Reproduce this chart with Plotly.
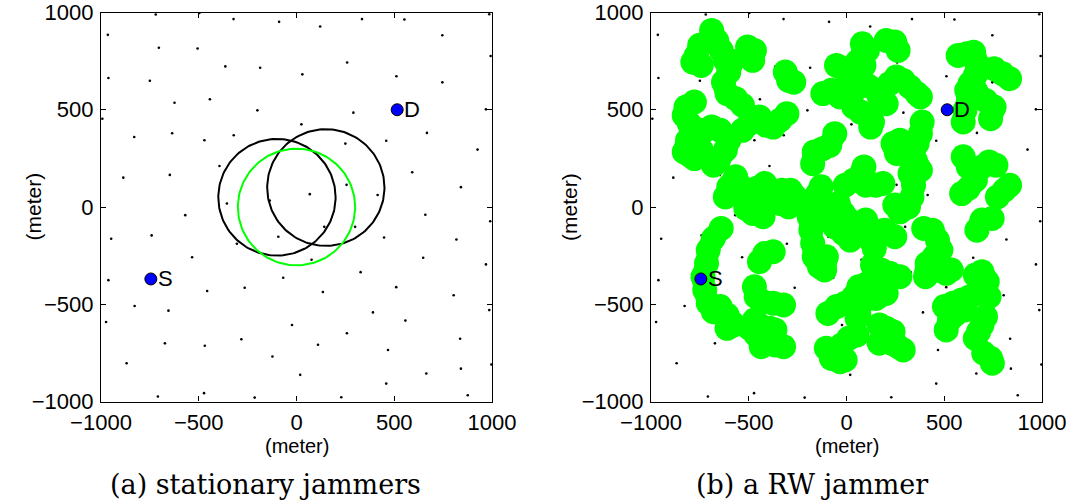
import numpy as np
import plotly.graph_objects as go

# ---- node positions (meters), shared by both panels ----
node_x = [-720, -497, -322, -89, 121, 335, 552, 986, -965, -704, -506, 746, 993,
          -364, -186, 259, 30, -962, -750, 511, 746, -443, -624, -200, 291, 969,
          -993, 25, -636, -830, -471, -321, 250, 459, 667, 926, -886, -648, -394,
          592, 841, 68, 256, 415, -137, -356, -569, 659, 991, -948, -741, -93,
          142, 300, 448, 818, -534, -305, 77, 648, 969, -962, -68, 328, 510, 804,
          -265, -457, 135, -828, -655, 391, 986, -974, -23, 557, 258, -673, -469,
          -282, 110, 468, 837, -123, -869, 997, 19, 664, 841, 459, -709, -473,
          -214, 229, 876]
node_y = [990, 998, 966, 952, 928, 966, 964, 991, 885, 819, 815, 883, 776,
          723, 716, 743, 682, 663, 649, 672, 641, 554, 536, 497, 485, 502,
          454, 425, 379, 360, 343, 369, 326, 341, 381, 295, 151, 165, 211,
          179, 102, 66, 114, 62, 33, 18, -42, -40, -73, -163, -146, -153,
          -102, -102, -157, -167, -258, -189, -271, -261, -295, -376, -364, -335, -412, -454,
          -415, -432, -437, -509, -533, -542, -530, -591, -607, -584, -649, -701, -713,
          -680, -708, -735, -677, -769, -803, -810, -863, -856, -831, -908, -974, -957,
          -980, -978, -968]

# ---- source / destination ----
src = (-745, -370)
dst = (515, 500)

# ---- stationary jammers: centers and jamming radius ----
jam_x = [-100, 150]
jam_y = [50, 100]
jam_r = [300, 300]
ref_x, ref_y, ref_r = 0, 0, 300

# ---- random-walk jammer trail (None separates walk segments) ----
rw_x = [-751, -769, -786, -743, None,
        -690, -664, -641, -620, -585, -602, -629, -611, -567, -532, None,
        -506, -471, -480, None,
        -313, -296, -270, None,
        -778, -821, -830, -804, -778, -725, -690, -646, -602, -620, -655, -681, None,
        -813, -830, -778, -743, None,
        -532, -497, -445, -410, -375, -340, -305, None,
        -620, -602, -567, -541, -506, -462, -418, -392, -427, None,
        -515, -480, -427, None,
        -331, -287, -261, -296, -340, None,
        -641, -681, -707, -716, -734, -725, -707, -681, None,
        -646, -611, -576, -611, None,
        -445, -418, -375, None,
        -471, -462, -427, -375, -322, None,
        -497, -471, -445, -392, -366, None,
        -462, -436, None,
        -366, -322, None,
        -173, -165, -121, -86, -60, None,
        -121, -77, -33, 2, None,
        -51, -16, 11, None,
        81, 107, 81, 54, 89, None,
        203, 247, 264, None,
        63, 107, 151, 168, 203, None,
        37, 72, 107, 133, 124, None,
        220, 255, 290, 325, 360, 378, None,
        571, 615, 650, 667, 659, 632, 615, 623, 606, 597, None,
        659, 711, 755, 737, None,
        755, 798, 834, None,
        387, 378, 361, 317, 273, 238, 256, 308, 352, 378, 325, 343, 335, 317, 273, 247, None,
        597, 623, 659, 694, 729, 764, None,
        659, 623, 589, None,
        772, 807, 834, None,
        -130, -147, -173, -138, None,
        -7, 37, 81, 89, None,
        98, 151, 186, None,
        -191, -182, -173, -165, -138, -112, -103, None,
        -103, -68, -42, -16, 11, 46, 19, -16, -60, None,
        98, 116, 124, 142, None,
        159, 194, 247, None,
        133, 177, 221, 273, None,
        395, 439, 465, 483, 448, 413, 404, 457, 510, 536, None,
        667, 693, 745, None,
        659, 693, 720, None,
        501, 545, 589, 632, 676, 729, None,
        606, 554, 527, 510, None,
        711, 693, 676, 659, None,
        702, 737, 746, None,
        -95, -51, -7, 37, 63, 107, 151, 203, 151, 81, 63, 54, None,
        -103, -77, -33, -7, None,
        -24, 11, 54, None,
        168, 203, 238, 220, 264, 290, 229, 168]
rw_y = [831, 779, 745, 728, None,
        908, 856, 805, 754, 750, 694, 642, 583, 557, 523, None,
        822, 805, 754, None,
        694, 651, 642, None,
        540, 514, 471, 429, 403, 394, 411, 394, 343, 292, 240, 215, None,
        343, 283, 249, 292, None,
        394, 429, 463, 420, 411, 446, 480, None,
        52, 104, 155, 104, 69, 95, 121, 61, 44, None,
        -7, -33, -50, None,
        86, 86, 52, 1, 18, None,
        -110, -162, -221, -290, -358, -427, -495, -538, None,
        -512, -555, -606, -624, None,
        -281, -239, -230, None,
        -410, -461, -487, -495, -504, None,
        -623, -581, -607, -623, -632, None,
        -658, -718, None,
        -709, -718, None,
        223, 283, 300, 317, 377, None,
        583, 600, 566, 600, None,
        728, 711, 677, None,
        839, 805, 779, 745, 728, None,
        856, 848, 805, None,
        617, 625, 600, 566, 531, None,
        514, 488, 471, 437, 411, None,
        634, 668, 651, 617, 583, 566, None,
        779, 788, 796, 737, 677, 634, 600, 548, 497, 437, None,
        600, 548, 514, 454, None,
        711, 685, 660, None,
        437, 377, 326, 326, 343, 326, 275, 266, 240, 189, 172, 112, 52, 1, -25, 10, None,
        258, 206, 164, 206, 232, 215, None,
        138, 95, 69, None,
        52, 86, 112, None,
        104, 69, 35, 18, None,
        112, 138, 181, 206, None,
        112, 112, 121, None,
        -50, -119, -187, -256, -307, -324, -256, None,
        -50, -8, 18, -33, -67, -119, -170, -136, -102, None,
        -67, -119, -170, -213, None,
        -127, -119, -153, None,
        -298, -324, -341, -358, None,
        -110, -119, -170, -221, -256, -290, -358, -324, -341, -324, None,
        -119, -67, -59, None,
        -350, -333, -384, None,
        -512, -495, -478, -461, -444, -461, None,
        -529, -555, -581, -632, None,
        -564, -607, -641, -675, None,
        -752, -778, -803, None,
        -547, -512, -495, -461, -410, -393, -384, -444, -470, -487, -547, -572, None,
        -726, -778, -795, -786, None,
        -709, -675, -658, None,
        -607, -623, -641, -666, -718, -735, -700, -700]

LIME = "#00ff00"
FONT = "Liberation Sans, Arial, Helvetica, sans-serif"
TICKS = [-1000, -500, 0, 500, 1000]

W, H = 1070, 503
PLOT_TOP, PLOT_BOTTOM = 12.5, 401.5
PANELS = [(101, 492), (651, 1042)]


def circle(cx, cy, r, n=181):
    t = np.linspace(0, 2 * np.pi, n)
    return cx + r * np.cos(t), cy + r * np.sin(t)


fig = go.Figure()

for xa, ya in (("x", "y"), ("x2", "y2")):
    fig.add_trace(go.Scatter(x=node_x, y=node_y, mode="markers",
                             marker=dict(color="black", size=2.6),
                             xaxis=xa, yaxis=ya, showlegend=False, hoverinfo="skip"))

# panel (a): jamming ranges
for cx, cy, r in zip(jam_x, jam_y, jam_r):
    px, py = circle(cx, cy, r)
    fig.add_trace(go.Scatter(x=px, y=py, mode="lines", line=dict(color="black", width=2),
                             xaxis="x", yaxis="y", showlegend=False))
px, py = circle(ref_x, ref_y, ref_r)
fig.add_trace(go.Scatter(x=px, y=py, mode="lines", line=dict(color=LIME, width=2),
                         xaxis="x", yaxis="y", showlegend=False))

# panel (b): random-walk trail, drawn as a thick smoothed stroke
fig.add_trace(go.Scatter(x=rw_x, y=rw_y, mode="lines+markers",
                         line=dict(color=LIME, width=22, shape="spline", smoothing=0.8),
                         marker=dict(color=LIME, size=25),
                         connectgaps=False,
                         xaxis="x2", yaxis="y2", showlegend=False))

# source and destination in both panels
for xa, ya in (("x", "y"), ("x2", "y2")):
    fig.add_trace(go.Scatter(x=[src[0], dst[0]], y=[src[1], dst[1]], mode="markers",
                             marker=dict(color="#0000ff", size=12,
                                         line=dict(color="black", width=1)),
                             xaxis=xa, yaxis=ya, showlegend=False))

axis_common = dict(range=[-1000, 1000], tickvals=TICKS, ticks="inside", ticklen=5,
                   tickcolor="black", showline=True, linecolor="black", linewidth=1.3,
                   mirror="ticks", showgrid=False, zeroline=False, automargin=False,
                   tickfont=dict(family=FONT, size=22, color="black"))

ydom = [1 - PLOT_BOTTOM / H, 1 - PLOT_TOP / H]
fig.update_layout(
    width=W, height=H,
    margin=dict(l=0, r=0, t=0, b=0),
    plot_bgcolor="white", paper_bgcolor="white",
    xaxis=dict(domain=[PANELS[0][0] / W, PANELS[0][1] / W], anchor="y",
               ticklabelstandoff=1, **axis_common),
    yaxis=dict(domain=ydom, anchor="x", ticklabelstandoff=2, **axis_common),
    xaxis2=dict(domain=[PANELS[1][0] / W, PANELS[1][1] / W], anchor="y2",
                ticklabelstandoff=1, **axis_common),
    yaxis2=dict(domain=ydom, anchor="x2", ticklabelstandoff=2, **axis_common),
)

ann = []
for (x0, x1), xa, ya, cap_x, cap in ((PANELS[0], "x", "y", 265, "(a) stationary jammers"),
                                     (PANELS[1], "x2", "y2", 812, "(b) a RW jammer")):
    ann.append(dict(x=src[0], y=src[1], xref=xa, yref=ya, text="S", showarrow=False,
                    xanchor="left", xshift=5, font=dict(family=FONT, size=22, color="black")))
    ann.append(dict(x=dst[0], y=dst[1], xref=xa, yref=ya, text="D", showarrow=False,
                    xanchor="left", xshift=5, font=dict(family=FONT, size=22, color="black")))
    # y-axis title
    ann.append(dict(x=(x0 - 82) / W, y=1 - 207 / H, xref="paper", yref="paper",
                    text="(meter)", textangle=-90, showarrow=False,
                    font=dict(family=FONT, size=21, color="black")))
    # x-axis title
    ann.append(dict(x=(x0 + x1) / 2 / W, y=1 - 446 / H, xref="paper", yref="paper",
                    text="(meter)", showarrow=False, xanchor="center", yanchor="middle",
                    font=dict(family=FONT, size=20, color="black")))
    # panel caption
    ann.append(dict(x=cap_x / W, y=1 - 484 / H, xref="paper", yref="paper",
                    text=cap, showarrow=False, xanchor="center", yanchor="middle",
                    font=dict(family="DejaVu Serif, serif", size=27, color="black")))
fig.update_layout(annotations=ann)

fig.write_html("out.html")
